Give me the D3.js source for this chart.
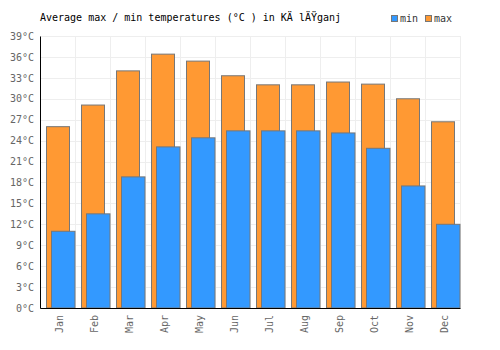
<!DOCTYPE html>
<html>
<head>
<meta charset="utf-8">
<script src="https://cdn.jsdelivr.net/npm/d3@7"></script>
<style>
  body { margin: 0; background: #fff; }
  text { font-family: "DejaVu Sans Mono", monospace; }
</style>
</head>
<body>
<div id="chart"></div>
<script>
const months = ["Jan", "Feb", "Mar", "Apr", "May", "Jun", "Jul", "Aug", "Sep", "Oct", "Nov", "Dec"];
const maxTemp = [26.0, 29.1, 34.0, 36.4, 35.4, 33.3, 32.0, 32.0, 32.4, 32.1, 30.0, 26.7];
const minTemp = [11.0, 13.5, 18.8, 23.1, 24.4, 25.4, 25.4, 25.4, 25.1, 22.9, 17.5, 12.0];
const yTicks = [0, 3, 6, 9, 12, 15, 18, 21, 24, 27, 30, 33, 36, 39];

const margin = {top: 36, right: 40, bottom: 42, left: 40},
  width = 500 - margin.left - margin.right,
  height = 350 - margin.top - margin.bottom;

const root = d3.select("#chart")
  .append("svg")
    .attr("width", 500)
    .attr("height", 350);

const svg = root.append("g")
    .attr("transform", `translate(${margin.left},${margin.top})`);

const x = d3.scaleBand()
  .domain(months)
  .range([0, width]);

const y = d3.scaleLinear()
  .domain([0, 39])
  .range([height, 0]);

// grid
svg.append("g")
  .selectAll("line")
  .data(yTicks)
  .join("line")
    .attr("x1", 0)
    .attr("x2", width)
    .attr("y1", d => Math.round(y(d)) + 0.5)
    .attr("y2", d => Math.round(y(d)) + 0.5)
    .attr("stroke", "#eee");

svg.append("g")
  .selectAll("line")
  .data(months)
  .join("line")
    .attr("x1", d => Math.round(x(d) + x.bandwidth()) + 0.5)
    .attr("x2", d => Math.round(x(d) + x.bandwidth()) + 0.5)
    .attr("y1", 0)
    .attr("y2", height)
    .attr("stroke", "#eee");

// max bars
svg.selectAll(".maxbar")
  .data(months)
  .join("rect")
    .attr("class", "maxbar")
    .attr("x", d => x(d) + 6.5)
    .attr("y", (d, i) => y(maxTemp[i]))
    .attr("width", 23)
    .attr("height", (d, i) => height - y(maxTemp[i]))
    .attr("fill", "#ff9933")
    .attr("stroke", "#777");

// min bars
svg.selectAll(".minbar")
  .data(months)
  .join("rect")
    .attr("class", "minbar")
    .attr("x", d => x(d) + 11.5)
    .attr("y", (d, i) => y(minTemp[i]))
    .attr("width", 23.5)
    .attr("height", (d, i) => height - y(minTemp[i]))
    .attr("fill", "#3399ff")
    .attr("stroke", "#777");

// axes
const yAxis = svg.append("g")
  .call(d3.axisLeft(y).tickValues(yTicks).tickSize(0).tickPadding(6).tickFormat(d => d + "°C"));
yAxis.select(".domain").attr("stroke", "#000");
yAxis.selectAll("text")
  .attr("fill", "#666")
  .style("font-size", "10px")
  .style("font-family", "DejaVu Sans Mono");

const xAxis = svg.append("g")
  .attr("transform", `translate(0, ${height})`)
  .call(d3.axisBottom(x).tickSize(0).tickPadding(0));
xAxis.select(".domain").attr("stroke", "#000");
xAxis.selectAll("text")
  .attr("fill", "#666")
  .style("font-size", "10px")
  .style("font-family", "DejaVu Sans Mono")
  .attr("transform", "rotate(-90)")
  .attr("x", -7)
  .attr("y", 2)
  .attr("dy", "0.35em")
  .style("text-anchor", "end");

// title
root.append("text")
  .attr("x", 40)
  .attr("y", 21)
  .attr("fill", "#000")
  .style("font-size", "10px")
  .text("Average max / min temperatures (°C ) in KÄ lÄŸganj");

// legend
const legend = root.append("g");
const items = [{name: "min", color: "#3399ff", x: 391}, {name: "max", color: "#ff9933", x: 425}];
items.forEach(it => {
  legend.append("rect")
    .attr("x", it.x + 0.5)
    .attr("y", 15.5)
    .attr("width", 6)
    .attr("height", 6)
    .attr("fill", it.color)
    .attr("stroke", "#777");
  legend.append("text")
    .attr("x", it.x + 9)
    .attr("y", 22)
    .attr("fill", "#333")
    .style("font-size", "10px")
    .text(it.name);
});
</script>
</body>
</html>
